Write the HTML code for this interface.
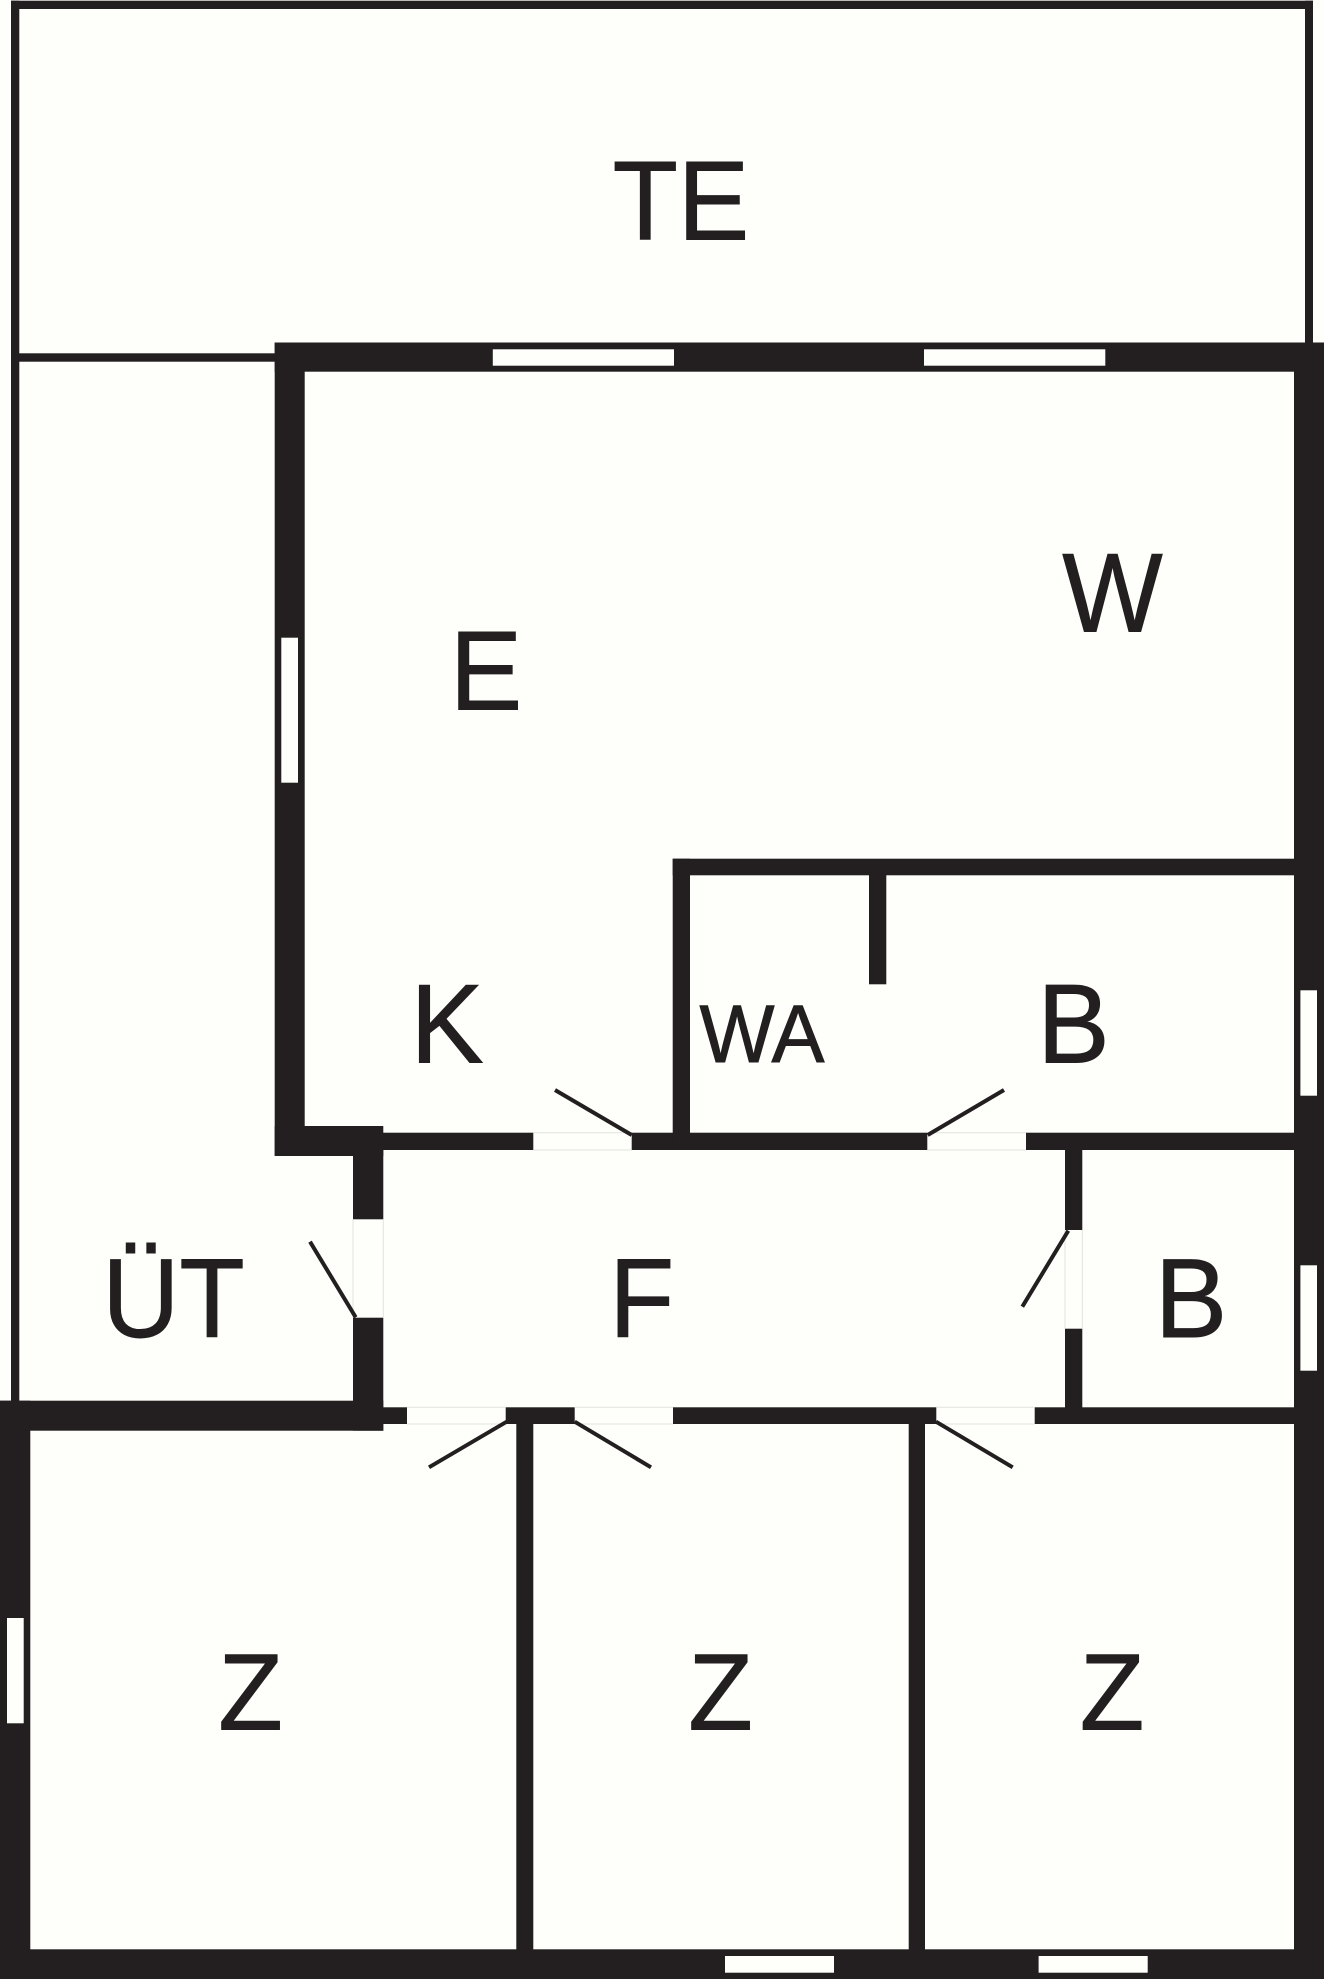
<!DOCTYPE html>
<html><head><meta charset="utf-8"><style>
html,body{margin:0;padding:0;background:#fefffa;width:1324px;height:1980px;overflow:hidden}
svg{display:block}
text{font-family:"Liberation Sans",sans-serif;fill:#231f20;stroke:#231f20;stroke-width:.9}
.b{font-size:112px}.s{font-size:81.5px}.z{font-size:109px}
</style></head><body>
<svg width="1324" height="1980" viewBox="0 0 1324 1980" xmlns="http://www.w3.org/2000/svg">
<rect width="1324" height="1980" fill="#fefffa"/>
<g fill="#231f20">
<rect x="11" y="0.7" width="8.3" height="1401"/>
<rect x="11" y="0.7" width="1302" height="8.3"/>
<rect x="1305" y="0.7" width="8" height="343"/>
<rect x="11" y="353.3" width="265" height="8.4"/>
<rect x="274.7" y="342.5" width="1049.3" height="29.2"/>
<rect x="274.7" y="342.5" width="30" height="813.5"/>
<rect x="1294" y="342.5" width="30" height="1636.5"/>
<rect x="274.7" y="1126" width="108.6" height="30"/>
<rect x="383" y="1132.7" width="150.3" height="17.3"/>
<rect x="631.7" y="1132.7" width="295.6" height="17.3"/>
<rect x="1026" y="1132.7" width="268.5" height="17.3"/>
<rect x="672.7" y="858.7" width="17.3" height="291.3"/>
<rect x="672.7" y="858.7" width="621.5" height="16.6"/>
<rect x="869" y="875" width="17.3" height="109.3"/>
<rect x="353" y="1150" width="30.3" height="69.3"/>
<rect x="353" y="1317.7" width="30.3" height="113"/>
<rect x="0" y="1400.7" width="383.3" height="30"/>
<rect x="0" y="1400.7" width="30.3" height="578.3"/>
<rect x="0" y="1949.3" width="1324" height="29.7"/>
<rect x="383" y="1407.3" width="24" height="16.7"/>
<rect x="505.7" y="1407.3" width="69" height="16.7"/>
<rect x="673" y="1407.3" width="263.3" height="16.7"/>
<rect x="1034.7" y="1407.3" width="259.5" height="16.7"/>
<rect x="516.3" y="1424" width="17" height="526"/>
<rect x="908.7" y="1424" width="16.3" height="526"/>
<rect x="1065" y="1150" width="17.3" height="80"/>
<rect x="1065" y="1328.7" width="17.3" height="79"/>
</g>
<g fill="#fefffa">
<rect x="492.8" y="349.3" width="181.2" height="16.4"/>
<rect x="924" y="349.3" width="181.3" height="16.4"/>
<rect x="281.3" y="637.7" width="16.7" height="145"/>
<rect x="1300.4" y="990.3" width="16.6" height="105.4"/>
<rect x="1300.4" y="1265.3" width="16.6" height="105.4"/>
<rect x="7" y="1618" width="16.7" height="105.3"/>
<rect x="725" y="1956" width="109" height="16.7"/>
<rect x="1038.6" y="1956" width="109.1" height="16.7"/>
</g>
<g stroke="#e2e2de" stroke-width="1" fill="none">
<path d="M533.3 1132.7H631.7M533.3 1150H631.7M927.3 1132.7H1026M927.3 1150H1026"/>
<path d="M407 1407.3H505.7M407 1424H505.7M574.7 1407.3H673M574.7 1424H673M936.3 1407.3H1034.7M936.3 1424H1034.7"/>
<path d="M353 1219.3V1317.7M383.3 1219.3V1317.7M1065 1230V1328.7M1082.3 1230V1328.7"/>
</g>
<g stroke="#231f20" stroke-width="4" fill="none">
<line x1="555" y1="1090" x2="631.7" y2="1135"/>
<line x1="1004" y1="1090" x2="927.7" y2="1135"/>
<line x1="310" y1="1241.7" x2="355.7" y2="1317.3"/>
<line x1="1068.3" y1="1230.7" x2="1022.3" y2="1306.7"/>
<line x1="429" y1="1467.3" x2="506.7" y2="1421.7"/>
<line x1="574.7" y1="1421.7" x2="651" y2="1467.3"/>
<line x1="936" y1="1421.7" x2="1012.7" y2="1467.3"/>
</g>
<text class="b" transform="translate(612.6 239.6) scale(.955 1)">TE</text>
<text class="b" transform="translate(1062.3 631.6) scale(.95 1)">W</text>
<text class="b" transform="translate(449.8 709.6) scale(.97 1)">E</text>
<text class="b" transform="translate(410.4 1062.3) scale(.98 1)">K</text>
<text class="s" transform="translate(699.5 1061.9) scale(.975 1)">WA</text>
<text class="b" transform="translate(1037.2 1062.3) scale(.97 1)">B</text>
<text class="b" transform="translate(102.2 1336.9) scale(.955 1)">ÜT</text>
<text class="b" transform="translate(609.2 1336.9) scale(.95 1)">F</text>
<text class="b" transform="translate(1154.7 1336.9) scale(.97 1)">B</text>
<text class="z" transform="translate(218.2 1729.6) scale(.97 1)">Z</text>
<text class="z" transform="translate(688.2 1729.6) scale(.97 1)">Z</text>
<text class="z" transform="translate(1079.7 1729.6) scale(.97 1)">Z</text>
</svg>
</body></html>
